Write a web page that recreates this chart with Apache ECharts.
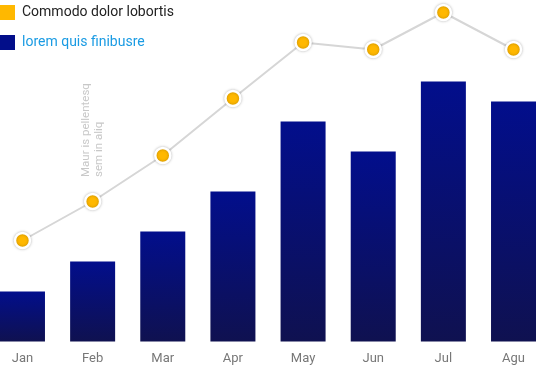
<!DOCTYPE html>
<html>
<head>
<meta charset="utf-8">
<script src="https://cdn.jsdelivr.net/npm/echarts@6/dist/echarts.min.js"></script>
<style>html,body{margin:0;padding:0;background:#fff}#c{width:536px;height:367px}</style>
</head>
<body>
<div id="c"></div>
<script>
var categories = ['Jan','Feb','Mar','Apr','May','Jun','Jul','Agu'];
var barValues = [50, 80, 110, 150, 220, 190, 260, 240];
var lineValues = [101, 140, 186, 243, 299, 292, 329, 292];
var lineName = 'Commodo dolor lobortis';
var barName = 'lorem quis finibusre';
var axisTitle = 'Maur is pellentesq\nsem in aliq';

var chart = echarts.init(document.getElementById('c'));
chart.setOption({
  animation: false,
  textStyle: { fontFamily: 'Roboto' },
  legend: {
    orient: 'vertical', left: 0, top: 5, padding: 0,
    itemWidth: 15, itemHeight: 15, itemGap: 15,
    icon: 'rect',
    textStyle: { fontSize: 14, fontFamily: 'Roboto', padding: [0,0,0,2] },
    data: [
      { name: lineName, itemStyle: { color: '#FFB800', borderWidth: 0, shadowBlur: 0 }, textStyle: { color: '#222' } },
      { name: barName, itemStyle: { color: '#020E8A' }, textStyle: { color: '#1A9BE3' } }
    ]
  },
  grid: { left: -12.6, right: -12.6, top: 1.5, bottom: 25.5, outerBoundsMode: 'none', containLabel: false },
  xAxis: {
    type: 'category', data: categories,
    axisLine: { show: false }, axisTick: { show: false },
    axisLabel: { color: '#777', fontSize: 13, margin: 11 }
  },
  yAxis: {
    type: 'value', min: 0, max: 340,
    show: false, splitLine: { show: false }
  },
  graphic: [{
    type: 'text', x: 93, y: 177, rotation: Math.PI / 2,
    style: { text: axisTitle, fill: '#c8c8c8', font: '11.5px Roboto', textAlign: 'left', textVerticalAlign: 'middle', lineHeight: 13 }
  }],
  series: [
    {
      name: barName, type: 'bar', data: barValues, barWidth: 45,
      itemStyle: {
        color: new echarts.graphic.LinearGradient(0, 0, 0, 1, [
          { offset: 0, color: '#020E8C' },
          { offset: 1, color: '#0F1150' }
        ])
      }
    },
    {
      name: lineName, type: 'line', data: lineValues, z: 5,
      symbol: 'circle', symbolSize: 15,
      lineStyle: { color: '#d6d6d6', width: 2 },
      itemStyle: { color: '#FFB800', borderColor: '#fff', borderWidth: 2.5, shadowBlur: 3, shadowColor: 'rgba(0,0,0,0.25)' }
    }
  ]
});
</script>
</body>
</html>
